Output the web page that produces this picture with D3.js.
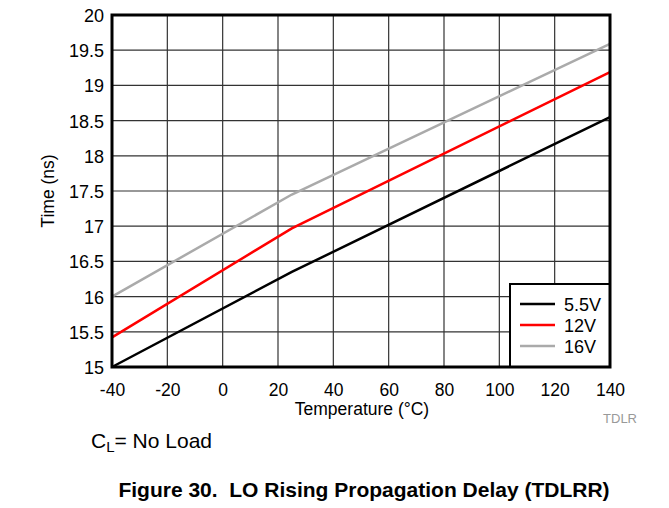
<!DOCTYPE html>
<html><head><meta charset="utf-8">
<script src="https://cdn.jsdelivr.net/npm/d3@7"></script>
<style>body{margin:0;background:#fff;} svg{display:block;font-family:"Liberation Sans",Arial,sans-serif;}</style>
</head><body>
<svg id="c" width="669" height="508"></svg>
<script>
const xTicks = [-40,-20,0,20,40,60,80,100,120,140];
const yTicks = [15,15.5,16,16.5,17,17.5,18,18.5,19,19.5,20];
const temps = [-40, 25, 140];
const v55 = [15.0, 16.35, 18.55];
const v12 = [15.42, 16.97, 19.19];
const v16 = [16.0, 17.45, 19.59];
const seriesNames = ["5.5V","12V","16V"];
const seriesColors = ["#000000","#ff0000","#aaaaaa"];

const svg = d3.select("#c");
const L=112, R=610, T=15, B=367;
const x = d3.scaleLinear().domain([-40,140]).range([L,R]);
const y = d3.scaleLinear().domain([15,20]).range([B,T]);

// grid
svg.append("g").selectAll("line").data(xTicks.slice(1,-1)).join("line")
  .attr("x1",d=>x(d)).attr("x2",d=>x(d)).attr("y1",T).attr("y2",B)
  .attr("stroke","#333").attr("stroke-width",1.2);
svg.append("g").selectAll("line").data(yTicks.slice(1,-1)).join("line")
  .attr("x1",L).attr("x2",R).attr("y1",d=>y(d)).attr("y2",d=>y(d))
  .attr("stroke","#333").attr("stroke-width",1.2);

// series
const all = [v55,v12,v16];
const line = d3.line().x((d,i)=>x(temps[i])).y(d=>y(d));
[2,1,0].forEach(k=>{
  svg.append("path").datum(all[k]).attr("d",line)
    .attr("fill","none").attr("stroke",seriesColors[k]).attr("stroke-width",2.5);
});

// legend
const lg = svg.append("g");
lg.append("rect").attr("x",510).attr("y",284).attr("width",R-510).attr("height",B-284)
  .attr("fill","#fff").attr("stroke","#000").attr("stroke-width",2);
seriesNames.forEach((n,i)=>{
  const yy = 304 + i*21;
  lg.append("line").attr("x1",520).attr("x2",555).attr("y1",yy).attr("y2",yy)
    .attr("stroke",seriesColors[i]).attr("stroke-width",2.5);
  lg.append("text").attr("x",564).attr("y",yy+6.5).attr("font-size",18).text(n);
});

// frame
svg.append("rect").attr("x",L).attr("y",T).attr("width",R-L).attr("height",B-T)
  .attr("fill","none").attr("stroke","#000").attr("stroke-width",3);

// axes
const xa = svg.append("g").attr("transform",`translate(0,${B})`)
  .call(d3.axisBottom(x).tickValues(xTicks).tickSize(0).tickPadding(0).tickFormat(d=>String(d)));
xa.select(".domain").remove();
xa.selectAll("text").attr("font-size",17.5).attr("fill","#000").attr("dy",null).attr("y",29)
  .attr("font-family","Liberation Sans, Arial, sans-serif");
const ya = svg.append("g").attr("transform",`translate(${L},0)`)
  .call(d3.axisLeft(y).tickValues(yTicks).tickSize(0).tickPadding(0).tickFormat(d=>String(d)));
ya.select(".domain").remove();
ya.selectAll("text").attr("font-size",18).attr("fill","#000").attr("dy","0.36em").attr("x",-8)
  .attr("font-family","Liberation Sans, Arial, sans-serif");

svg.append("text").attr("x",362).attr("y",415).attr("text-anchor","middle").attr("font-size",17.5).text("Temperature (°C)");
svg.append("text").attr("transform","translate(54,191) rotate(-90)").attr("text-anchor","middle").attr("font-size",17.5).text("Time (ns)");
svg.append("text").attr("x",637).attr("y",423).attr("text-anchor","end").attr("font-size",13).attr("fill","#999").text("TDLR");

const cl = svg.append("text").attr("x",91).attr("y",448).attr("font-size",21);
cl.append("tspan").text("C");
cl.append("tspan").attr("font-size",15).attr("dy",4).text("L");
cl.append("tspan").attr("dy",-4).text("= No Load");

svg.append("text").attr("x",364).attr("y",497).attr("text-anchor","middle").attr("font-size",21).attr("font-weight","bold").style("white-space","pre").text("Figure 30.  LO Rising Propagation Delay (TDLRR)");
</script>
</body></html>
